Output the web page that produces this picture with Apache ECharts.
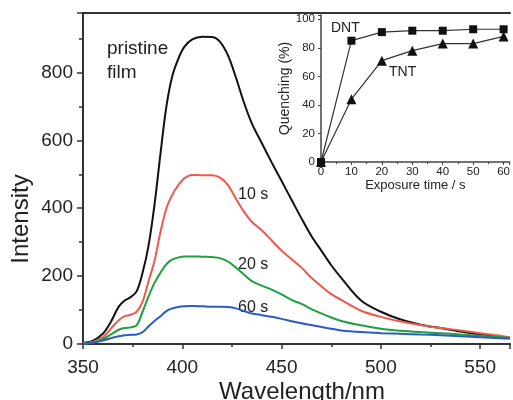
<!DOCTYPE html>
<html>
<head>
<meta charset="utf-8">
<script src="https://cdn.jsdelivr.net/npm/echarts@6/dist/echarts.min.js"></script>
<style>html,body{margin:0;padding:0;background:#fff}#c{width:513px;height:400px}</style>
</head>
<body>
<div id="c"></div>
<script>
// ---- Main spectra data ----
var wavelengths = [350,355,360,364,368,371,374,377,380,383,386,389,392,395,398,401,405,410,415,419,423,427,431,435,440,445,450,455,460,465,470,475,480,490,500,510,520,530,540,550,560,565];
var pristine = [3,10,30,65,110,128,138,155,210,290,410,560,700,790,840,875,897,905,904,890,850,785,712,650,592,535,480,425,370,318,275,232,195,128,95,72,57,47,37,28,20,17];
var s10 = [2,7,20,45,70,82,86,95,125,185,245,330,400,440,468,488,498,497,497,490,468,428,390,360,335,305,275,250,225,195,170,147,130,98,80,66,56,47,40,32,24,20];
var s20 = [1,5,14,28,42,47,49,55,95,140,180,210,235,249,255,258,258,257,256,253,243,225,205,185,172,160,146,130,118,103,90,78,68,55,45,39,35,32,28,24,20,18];
var s60 = [1,4,10,17,23,26,27,28,35,52,68,82,97,105,109,111,112,111,110,110,109,105,97,90,85,80,74,67,61,56,50,45,40,35,32,30,28,26,23,20,17,16];
var xTicks = [350,400,450,500,550];
var yTicks = [0,200,400,600,800];

// ---- Inset data ----
var exposure = [0,10,20,30,40,50,60];
var dnt = [0,85,91,92,92,93,93];
var tnt = [0,44,71,78,83,83,88];

var FONT = '"Liberation Sans", Arial, sans-serif';
function pairs(xs, ys){ return xs.map(function(x,i){ return [x, ys[i]]; }); }

var chart = echarts.init(document.getElementById('c'), null, {renderer:'canvas'});
var option = {
  backgroundColor:'#fff',
  animation:false,
  textStyle:{fontFamily:FONT},
  grid:[
    {left:83, right:0, top:13, bottom:56},
    {left:321, right:2, top:15, bottom:238}
  ],
  xAxis:[
    {gridIndex:0, type:'value', min:350, max:565, interval:50,
     axisLine:{show:true, lineStyle:{color:'#333', width:2}},
     axisTick:{show:true, inside:false, length:5, lineStyle:{color:'#333', width:1.5}},
     minorTick:{show:true, splitNumber:2, length:3, lineStyle:{color:'#333', width:1.5}},
     axisLabel:{fontSize:19, color:'#222', margin:14, fontFamily:FONT,
       formatter:function(v){ return xTicks.indexOf(v)>=0 ? String(v) : ''; }},
     splitLine:{show:false}},
    {gridIndex:0, type:'value', min:350, max:565, position:'top',
     axisLine:{show:true, lineStyle:{color:'#333', width:2}},
     axisTick:{show:false}, axisLabel:{show:false}, splitLine:{show:false}},
    {gridIndex:1, type:'value', min:0, max:62, interval:10,
     name:'Exposure time / s', nameLocation:'middle', nameGap:17,
     nameTextStyle:{fontSize:13, color:'#222', fontFamily:FONT},
     axisLine:{show:true, onZero:false, lineStyle:{color:'#444', width:1.5}},
     axisTick:{show:true, length:3, lineStyle:{color:'#444'}},
     minorTick:{show:true, splitNumber:2, length:2, lineStyle:{color:'#444'}},
     axisLabel:{fontSize:11.5, color:'#222', margin:4, fontFamily:FONT,
       formatter:function(v){ return v%10===0 ? String(v) : ''; }},
     splitLine:{show:false}}
  ],
  yAxis:[
    {gridIndex:0, type:'value', min:0, max:975, interval:200,
     axisLine:{show:true, lineStyle:{color:'#333', width:2}},
     axisTick:{show:true, inside:false, length:6, lineStyle:{color:'#333', width:1.5}},
     minorTick:{show:true, splitNumber:2, length:4, lineStyle:{color:'#333', width:1.5}},
     axisLabel:{fontSize:19, color:'#222', margin:10, fontFamily:FONT,
       formatter:function(v){ return yTicks.indexOf(v)>=0 ? String(v) : ''; }},
     splitLine:{show:false}},
    {gridIndex:1, type:'value', min:0, max:103, interval:20,
     name:'Quenching (%)', nameLocation:'middle', nameGap:22,
     nameTextStyle:{fontSize:14, color:'#222', fontFamily:FONT},
     axisLine:{show:true, onZero:false, lineStyle:{color:'#444', width:1.5}},
     axisTick:{show:true, length:3, lineStyle:{color:'#444'}},
     axisLabel:{fontSize:11.5, color:'#222', margin:6, fontFamily:FONT,
       formatter:function(v){ return v%20===0 ? String(v) : ''; }},
     splitLine:{show:false}}
  ],
  series:[
    {type:'line', xAxisIndex:0, yAxisIndex:0, data:pairs(wavelengths, pristine), showSymbol:false, smooth:0.35,
     lineStyle:{color:'#111', width:2}},
    {type:'line', xAxisIndex:0, yAxisIndex:0, data:pairs(wavelengths, s10), showSymbol:false, smooth:0.35,
     lineStyle:{color:'#f0584c', width:2}},
    {type:'line', xAxisIndex:0, yAxisIndex:0, data:pairs(wavelengths, s20), showSymbol:false, smooth:0.35,
     lineStyle:{color:'#1ea03c', width:2}},
    {type:'line', xAxisIndex:0, yAxisIndex:0, data:pairs(wavelengths, s60), showSymbol:false, smooth:0.35,
     lineStyle:{color:'#2b5cc6', width:2}},
    {type:'line', xAxisIndex:2, yAxisIndex:1, data:pairs(exposure, dnt), symbol:'rect', symbolSize:8,
     lineStyle:{color:'#333', width:1.2}, itemStyle:{color:'#111'}},
    {type:'line', xAxisIndex:2, yAxisIndex:1, data:pairs(exposure, tnt), symbol:'triangle', symbolSize:10,
     lineStyle:{color:'#333', width:1.2}, itemStyle:{color:'#111'}}
  ],
  graphic:[
    {type:'text', x:21, y:219, rotation:Math.PI/2,
     style:{text:'Intensity', font:'24px '+FONT, fill:'#222', textAlign:'center', textVerticalAlign:'middle'}},
    {type:'text', x:302, y:392,
     style:{text:'Wavelength/nm', font:'24px '+FONT, fill:'#222', textAlign:'center', textVerticalAlign:'middle'}},
    {type:'text', left:107, top:39, style:{text:'pristine', font:'19px '+FONT, fill:'#222'}},
    {type:'text', left:107, top:63, style:{text:'film', font:'19px '+FONT, fill:'#222'}},
    {type:'text', left:238, top:187, style:{text:'10 s', font:'16px '+FONT, fill:'#222'}},
    {type:'text', left:238, top:257, style:{text:'20 s', font:'16px '+FONT, fill:'#222'}},
    {type:'text', left:238, top:300, style:{text:'60 s', font:'16px '+FONT, fill:'#222'}},
    {type:'text', left:331, top:21, style:{text:'DNT', font:'14px '+FONT, fill:'#222'}},
    {type:'text', left:389, top:65, style:{text:'TNT', font:'14px '+FONT, fill:'#222'}}
  ]
};
chart.setOption(option);
</script>
</body>
</html>
